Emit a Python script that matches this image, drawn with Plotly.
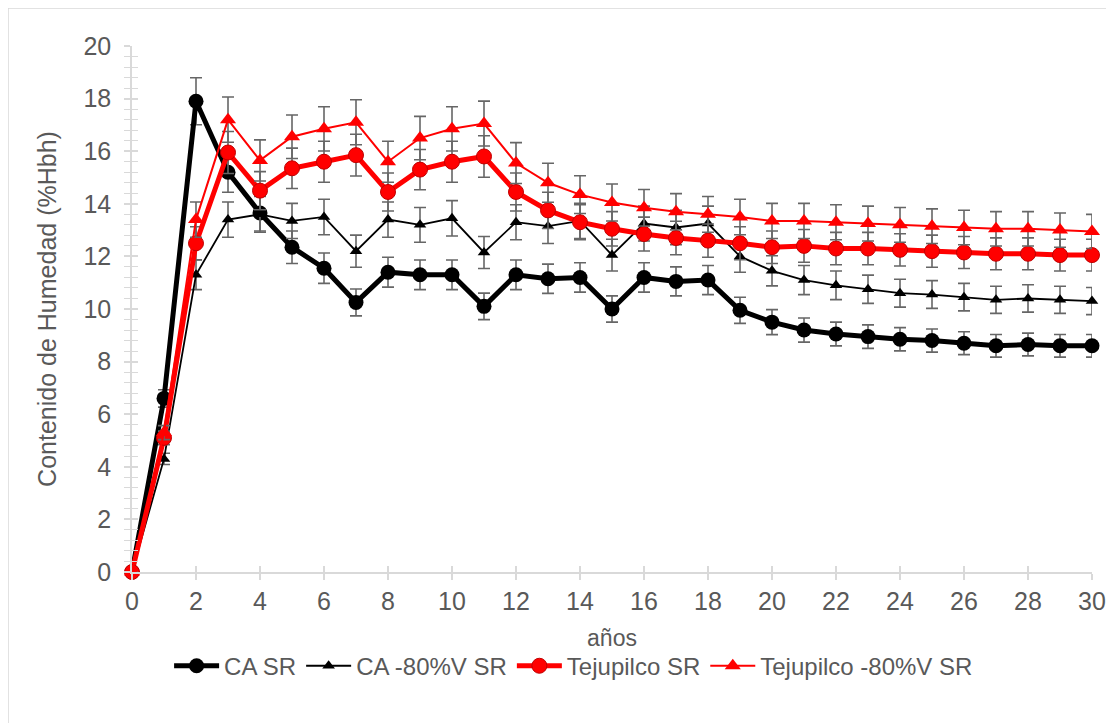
import plotly.graph_objects as go

# años
anios = list(range(0, 31))

ca_sr = [0, 6.6, 17.9, 15.2, 13.65, 12.35, 11.55, 10.25, 11.4, 11.3, 11.3, 10.1,
         11.3, 11.15, 11.2, 10.0, 11.2, 11.05, 11.1, 9.95, 9.5, 9.2, 9.05, 8.95,
         8.85, 8.8, 8.7, 8.6, 8.65, 8.6, 8.6]
ca_80v_sr = [0, 4.3, 11.3, 13.4, 13.6, 13.35, 13.5, 12.2, 13.4, 13.2, 13.45, 12.15,
             13.3, 13.15, 13.35, 12.05, 13.25, 13.1, 13.25, 12.0, 11.45, 11.1, 10.9,
             10.75, 10.6, 10.55, 10.45, 10.35, 10.4, 10.35, 10.3]
tej_sr = [0, 5.1, 12.5, 15.95, 14.5, 15.35, 15.6, 15.85, 14.45, 15.3, 15.6, 15.8,
          14.45, 13.75, 13.3, 13.05, 12.85, 12.7, 12.6, 12.5, 12.35, 12.4, 12.3,
          12.3, 12.25, 12.2, 12.15, 12.1, 12.1, 12.05, 12.05]
tej_80v_sr = [0, 5.3, 13.4, 17.2, 15.65, 16.55, 16.85, 17.1, 15.6, 16.5, 16.85, 17.05,
              15.55, 14.8, 14.35, 14.05, 13.85, 13.7, 13.6, 13.5, 13.35, 13.35, 13.3,
              13.25, 13.2, 13.15, 13.1, 13.05, 13.05, 13.0, 12.95]

# barras de error: 5 %
err_pct = 5

FONT = "Liberation Sans, Arial, sans-serif"
GRIS = "#595959"
EJE = "#d9d9d9"

err = dict(type="percent", value=err_pct, color="#666666", thickness=1.6, width=6)

fig = go.Figure()

fig.add_trace(go.Scatter(
    x=anios, y=ca_sr, name="CA SR", mode="lines+markers",
    line=dict(color="black", width=5),
    marker=dict(symbol="circle", size=15, color="black"),
    error_y=err, cliponaxis=False))

fig.add_trace(go.Scatter(
    x=anios, y=ca_80v_sr, name="CA -80%V SR", mode="lines+markers",
    line=dict(color="black", width=1.8),
    marker=dict(symbol="triangle-up", size=11, color="black"),
    error_y=err, cliponaxis=False))

fig.add_trace(go.Scatter(
    x=anios, y=tej_sr, name="Tejupilco SR", mode="lines+markers",
    line=dict(color="#ff0000", width=5),
    marker=dict(symbol="circle", size=15, color="#ff0000",
                line=dict(color="#c00000", width=1)),
    error_y=err, cliponaxis=False))

fig.add_trace(go.Scatter(
    x=anios, y=tej_80v_sr, name="Tejupilco -80%V SR", mode="lines+markers",
    line=dict(color="#ff0000", width=2),
    marker=dict(symbol="triangle-up", size=14, color="#ff0000"),
    error_y=err, cliponaxis=False))

fig.update_layout(
    width=1114, height=723,
    margin=dict(l=124, r=30, t=38, b=159),
    paper_bgcolor="white", plot_bgcolor="white",
    font=dict(family=FONT, size=25, color=GRIS),
    showlegend=True,
    legend=dict(orientation="h", x=0.46, xanchor="center", y=-0.179, yanchor="middle",
                font=dict(size=24, color=GRIS), itemwidth=45, tracegroupgap=0),
    xaxis=dict(range=[0, 30], dtick=2, tick0=0, showgrid=False, zeroline=False,
               showline=True, linecolor=EJE, linewidth=1.5,
               ticks="outside", ticklen=6, tickcolor=EJE, tickwidth=1.5,
               title=dict(text="años", standoff=16, font=dict(size=23, color=GRIS)),
               tickfont=dict(size=25, color=GRIS)),
    yaxis=dict(range=[0, 20], dtick=2, tick0=0, showgrid=False, zeroline=False,
               showline=True, linecolor=EJE, linewidth=1.5,
               ticks="outside", ticklen=6, tickcolor=EJE, tickwidth=1.5,
               ticklabelstandoff=8,
               minor=dict(dtick=0.4, ticks="outside", ticklen=6, tickcolor=EJE, tickwidth=1.2),
               title=dict(text="Contenido de Humedad (%Hbh)", standoff=20,
                          font=dict(size=25, color=GRIS)),
               tickfont=dict(size=25, color=GRIS)),
    # ejes superpuestos para marcas cruzadas
    xaxis2=dict(overlaying="x", matches="x", range=[0, 30], dtick=2, tick0=0,
                showgrid=False, zeroline=False, showticklabels=False,
                ticks="inside", ticklen=6, tickcolor=EJE, tickwidth=1.5, side="bottom"),
    yaxis2=dict(overlaying="y", matches="y", range=[0, 20], dtick=2, tick0=0,
                showgrid=False, zeroline=False, showticklabels=False,
                ticks="inside", ticklen=6, tickcolor=EJE, tickwidth=1.5, side="left",
                minor=dict(dtick=0.4, ticks="inside", ticklen=6, tickcolor=EJE, tickwidth=1.2)),
)

# traza invisible para activar los ejes superpuestos
fig.add_trace(go.Scatter(x=[0], y=[0], xaxis="x2", yaxis="y2", mode="markers",
                         marker=dict(opacity=0), showlegend=False, hoverinfo="skip"))

# borde del gráfico
fig.add_shape(type="rect", xref="paper", yref="paper",
              x0=-124 / 960, y0=-170 / 526, x1=1.05, y1=1 + 38 / 526,
              line=dict(color=EJE, width=1.5), layer="below")

fig.write_html("out.html")
